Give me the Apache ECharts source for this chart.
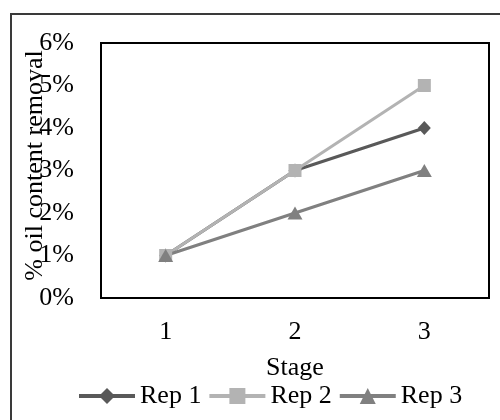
<!DOCTYPE html>
<html>
<head>
<meta charset="utf-8">
<script src="https://cdn.jsdelivr.net/npm/echarts@6/dist/echarts.min.js"></script>
<style>html,body{margin:0;padding:0;background:#fff}#c{width:500px;height:420px}</style>
</head>
<body>
<div id="c"></div>
<script>
var categories = ['1', '2', '3'];
var rep1 = [1, 3, 4];
var rep2 = [1, 3, 5];
var rep3 = [1, 2, 3];
var seriesNames = ['Rep 1', 'Rep 2', 'Rep 3'];
var yMin = 0, yMax = 6, yStep = 1;

var FONT = '"Liberation Serif", "Times New Roman", serif';
var chart = echarts.init(document.getElementById('c'), null, {renderer: 'canvas'});
chart.setOption({
  animation: false,
  backgroundColor: '#fff',
  graphic: [{
    type: 'rect', silent: true, z: -1,
    shape: {x: 11, y: 14, width: 600, height: 500},
    style: {fill: 'none', stroke: '#3a3a3a', lineWidth: 2}
  }],
  grid: {left: 101, top: 43, right: 11, bottom: 122, show: true, borderColor: '#000', borderWidth: 2, backgroundColor: 'transparent'},
  legend: {
    left: 72, top: 378,
    itemWidth: 56, itemHeight: 20, itemGap: 6,
    lineStyle: {width: 4},
    textStyle: {fontFamily: FONT, fontSize: 26, color: '#000'},
    data: seriesNames
  },
  xAxis: {
    type: 'category', data: categories, boundaryGap: true,
    name: 'Stage', nameLocation: 'middle', nameGap: 57, nameMoveOverlap: false,
    nameTextStyle: {fontFamily: FONT, fontSize: 26, color: '#000'},
    axisLine: {show: false}, axisTick: {show: false}, splitLine: {show: false},
    axisLabel: {fontFamily: FONT, fontSize: 26, color: '#000', margin: 21}
  },
  yAxis: {
    type: 'value', min: yMin, max: yMax, interval: yStep,
    name: '% oil content removal', nameLocation: 'middle', nameGap: 53, nameRotate: 90, nameMoveOverlap: false,
    nameTextStyle: {fontFamily: FONT, fontSize: 26, color: '#000', padding: [0, 0, 0, 10]},
    axisLine: {show: false}, axisTick: {show: false}, splitLine: {show: false},
    axisLabel: {fontFamily: FONT, fontSize: 26, color: '#000', margin: 27, formatter: '{value}%'}
  },
  series: [
    {name: seriesNames[0], type: 'line', data: rep1, symbol: 'diamond', symbolSize: [13, 14],
     lineStyle: {color: '#595959', width: 3}, itemStyle: {color: '#595959'}},
    {name: seriesNames[1], type: 'line', data: rep2, symbol: 'rect', symbolSize: 13,
     lineStyle: {color: '#b3b3b3', width: 3}, itemStyle: {color: '#b3b3b3'}},
    {name: seriesNames[2], type: 'line', data: rep3, symbol: 'triangle', symbolSize: [15, 13],
     lineStyle: {color: '#808080', width: 3}, itemStyle: {color: '#808080'}}
  ]
});
</script>
</body>
</html>
